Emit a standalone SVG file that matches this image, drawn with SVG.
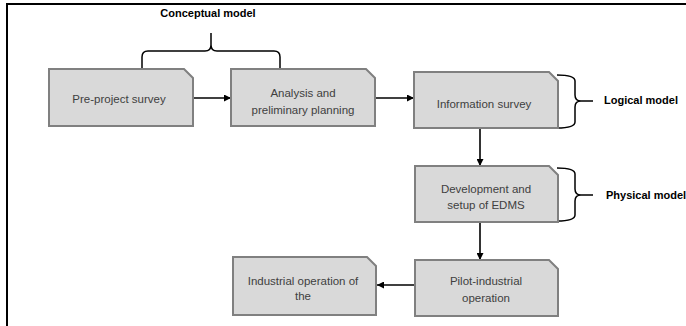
<svg xmlns="http://www.w3.org/2000/svg" width="686" height="326" viewBox="0 0 686 326">
<style>
.box{fill:#d9d9d9;stroke:#808080;stroke-width:2}
.t{font-family:"Liberation Sans",Arial,sans-serif;font-size:11.5px;fill:#404040;text-anchor:middle}
.lbl{font-family:"Liberation Sans",Arial,sans-serif;font-size:11px;font-weight:bold;fill:#000}
.c{stroke:#000;stroke-width:1.6;fill:none}
.br{stroke:#000;stroke-width:1.5;fill:none}
</style>
<defs>
<marker id="ah" viewBox="0 0 10 10" refX="10" refY="5" markerWidth="7" markerHeight="7" orient="auto" markerUnits="userSpaceOnUse">
<path d="M0,0 L10,5 L0,10 z" fill="#000"/>
</marker>
</defs>
<rect width="686" height="326" fill="#fff"/>
<path d="M7,326 L7,4 L686,4" fill="none" stroke="#000" stroke-width="2"/>
<g id="labels">
<text class="lbl" x="208" y="17" text-anchor="middle">Conceptual model</text>
<text class="lbl" x="604" y="104">Logical model</text>
<text class="lbl" x="606" y="199">Physical model</text>
</g>
<g id="braces">
<path class="br" d="M142,69 L142,57 Q142,51 148,51 L205,51 Q211,51 211,45 L211,33 M211,45 Q211,51 217,51 L274,51 Q280,51 280,57 L280,69"/>
<path class="br" d="M557,75 Q575,75 575,81 L575,95 Q575,101 581,101 L593,101 M581,101 Q575,101 575,107 L575,122 Q575,128 557,128"/>
<path class="br" d="M557,168 Q575,168 575,174 L575,189 Q575,195 581,195 L593,195 M581,195 Q575,195 575,201 L575,215 Q575,221 557,221"/>
</g>
<g id="connectors">
<line class="c" x1="193" y1="98" x2="231" y2="98" marker-end="url(#ah)"/>
<line class="c" x1="375" y1="98" x2="414" y2="98" marker-end="url(#ah)"/>
<line class="c" x1="480" y1="128" x2="480" y2="166" marker-end="url(#ah)"/>
<line class="c" x1="480" y1="222" x2="480" y2="260" marker-end="url(#ah)"/>
<line class="c" x1="415" y1="285" x2="377" y2="285" marker-end="url(#ah)"/>
</g>
<g id="n1">
<path class="box" d="M49,69 L184,69 L193,78 L193,126 L49,126 Z"/>
<text class="t" x="119" y="103">Pre-project survey</text>
</g>
<g id="n2">
<path class="box" d="M231,69 L366,69 L375,78 L375,126 L231,126 Z"/>
<text class="t" x="303" y="97">Analysis and</text>
<text class="t" x="303" y="114">preliminary planning</text>
</g>
<g id="n3">
<path class="box" d="M414,72 L549,72 L558,81 L558,128 L414,128 Z"/>
<text class="t" x="484" y="108">Information survey</text>
</g>
<g id="n4">
<path class="box" d="M415,166 L549,166 L558,175 L558,222 L415,222 Z"/>
<text class="t" x="486" y="193">Development and</text>
<text class="t" x="486" y="209">setup of EDMS</text>
</g>
<g id="n5">
<path class="box" d="M415,260 L549,260 L558,269 L558,316 L415,316 Z"/>
<text class="t" x="486" y="285">Pilot-industrial</text>
<text class="t" x="486" y="302">operation</text>
</g>
<g id="n6">
<path class="box" d="M233,257 L367,257 L376,266 L376,315 L233,315 Z"/>
<text class="t" x="303" y="285">Industrial operation of</text>
<text class="t" x="303" y="300">the</text>
</g>
</svg>
